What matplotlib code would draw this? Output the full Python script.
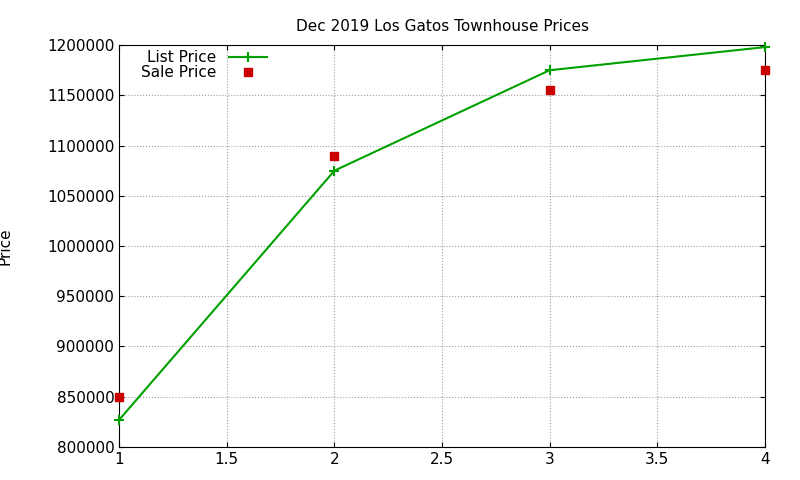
import matplotlib
matplotlib.use("Agg")
import matplotlib.pyplot as plt

x = [1, 2, 3, 4]
list_price = [827000, 1075000, 1175000, 1198000]
sale_price = [850000, 1090000, 1155000, 1175000]
yticks = list(range(800000, 1200001, 50000))

fig = plt.figure(figsize=(8, 4.8), dpi=100)
ax = fig.add_axes([0.149, 0.069, 0.807, 0.837])

ax.plot(x, list_price, color="#00a000", lw=1.5, marker="+", ms=7, mew=1.5,
        label="List Price", clip_on=False, zorder=3)
ax.plot(x, sale_price, ls="none", marker="s", ms=6, color="#cc0000",
        label="Sale Price", clip_on=False, zorder=3)

ax.set_xlim(1, 4)
ax.set_ylim(800000, 1200000)
ax.set_xticks([1, 1.5, 2, 2.5, 3, 3.5, 4])
ax.set_xticklabels(["1", "1.5", "2", "2.5", "3", "3.5", "4"])
ax.set_yticks(yticks)
ax.set_yticklabels([str(v) for v in yticks])
ax.grid(True, color="#a0a0a0", ls=":", lw=0.8)
ax.tick_params(direction="in", top=True, right=True, labelsize=11)
ax.set_ylabel("Price", fontsize=11)
ax.yaxis.set_label_coords(-0.165, 0.5)
ax.set_title("Dec 2019 Los Gatos Townhouse Prices", fontsize=11, pad=10)

ax.legend(loc="upper left", bbox_to_anchor=(0.02, 1.01), frameon=False, markerfirst=False,
          fontsize=11, handlelength=2.5, borderaxespad=0.2, labelspacing=0.0)

fig.savefig("out.png", dpi=100)
